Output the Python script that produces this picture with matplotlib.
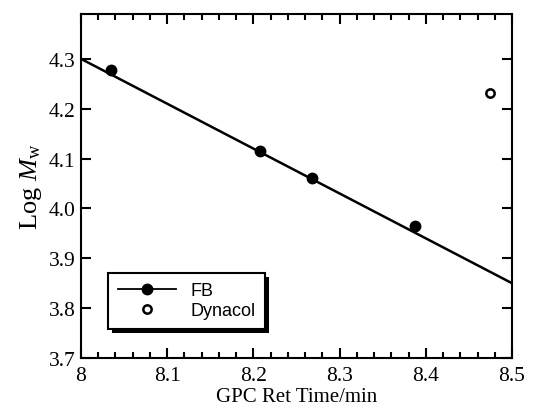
import matplotlib
matplotlib.use("Agg")
import matplotlib.pyplot as plt
from matplotlib.patches import Rectangle
from matplotlib.transforms import IdentityTransform

# data
fb_time = [8.035, 8.208, 8.268, 8.388]
fb_logmw = [4.278, 4.116, 4.062, 3.964]
dyn_time = [8.475]
dyn_logmw = [4.231]
fit_time = [8.0, 8.5]
fit_logmw = [4.30, 3.85]

plt.rcParams['font.family'] = 'Liberation Serif'
plt.rcParams['mathtext.fontset'] = 'custom'
plt.rcParams['mathtext.rm'] = 'Liberation Serif'
plt.rcParams['mathtext.it'] = 'Liberation Serif:italic'

fig = plt.figure(figsize=(5.35, 4.10), dpi=100)
ax = fig.add_axes([81/535, 1 - 359/410, 431/535, 344/410])

ax.plot(fit_time, fit_logmw, color='k', lw=1.8, zorder=2)
ax.plot(fb_time, fb_logmw, 'o', color='k', ms=7.5, zorder=3)
ax.plot(dyn_time, dyn_logmw, 'o', mfc='white', mec='k', mew=1.8, ms=6, zorder=3)

# legend proxies
h1, = ax.plot([], [], '-o', color='k', lw=1.3, ms=7.5, label='FB')
h2, = ax.plot([], [], 'o', mfc='white', mec='k', mew=1.8, ms=6, label='Dynacol')
leg = ax.legend(handles=[h1, h2], loc='lower left', bbox_to_anchor=(0.063, 0.084),
                borderaxespad=0, fancybox=False, handlelength=3.2,
                prop={'family': 'Liberation Sans', 'size': 13},
                framealpha=1, edgecolor='k', labelspacing=0.15, borderpad=0.55)
leg.get_frame().set_linewidth(1.5)

ax.set_xlim(8.0, 8.5)
ax.set_ylim(3.7, 4.39)
ax.set_xticks([8.0, 8.1, 8.2, 8.3, 8.4, 8.5])
ax.set_xticklabels(['8', '8.1', '8.2', '8.3', '8.4', '8.5'])
ax.set_xticks([8.0 + 0.02 * i for i in range(26)], minor=True)
ax.set_yticks([3.7, 3.8, 3.9, 4.0, 4.1, 4.2, 4.3])
ax.tick_params(which='both', direction='in', top=True, right=True, width=1.5, labelsize=15.5)
ax.tick_params(which='major', length=7)
ax.tick_params(which='minor', length=4)
ax.tick_params(axis='x', pad=6)
ax.tick_params(axis='y', pad=4)
for s in ax.spines.values():
    s.set_linewidth(1.5)

ax.set_xlabel('GPC Ret Time/min', fontsize=15, labelpad=1)
ax.set_ylabel(r'Log $\mathit{M}_{\mathrm{w}}$', fontsize=19, labelpad=3)

# heavy black drop shadow under the legend box
fig.canvas.draw()
bb = leg.get_window_extent()
ax.add_patch(Rectangle((bb.x0 + 4, bb.y0 - 4), bb.width, bb.height, transform=IdentityTransform(),
                       facecolor='k', edgecolor='none', zorder=4.9, clip_on=False))

fig.savefig('out.png', dpi=100)
